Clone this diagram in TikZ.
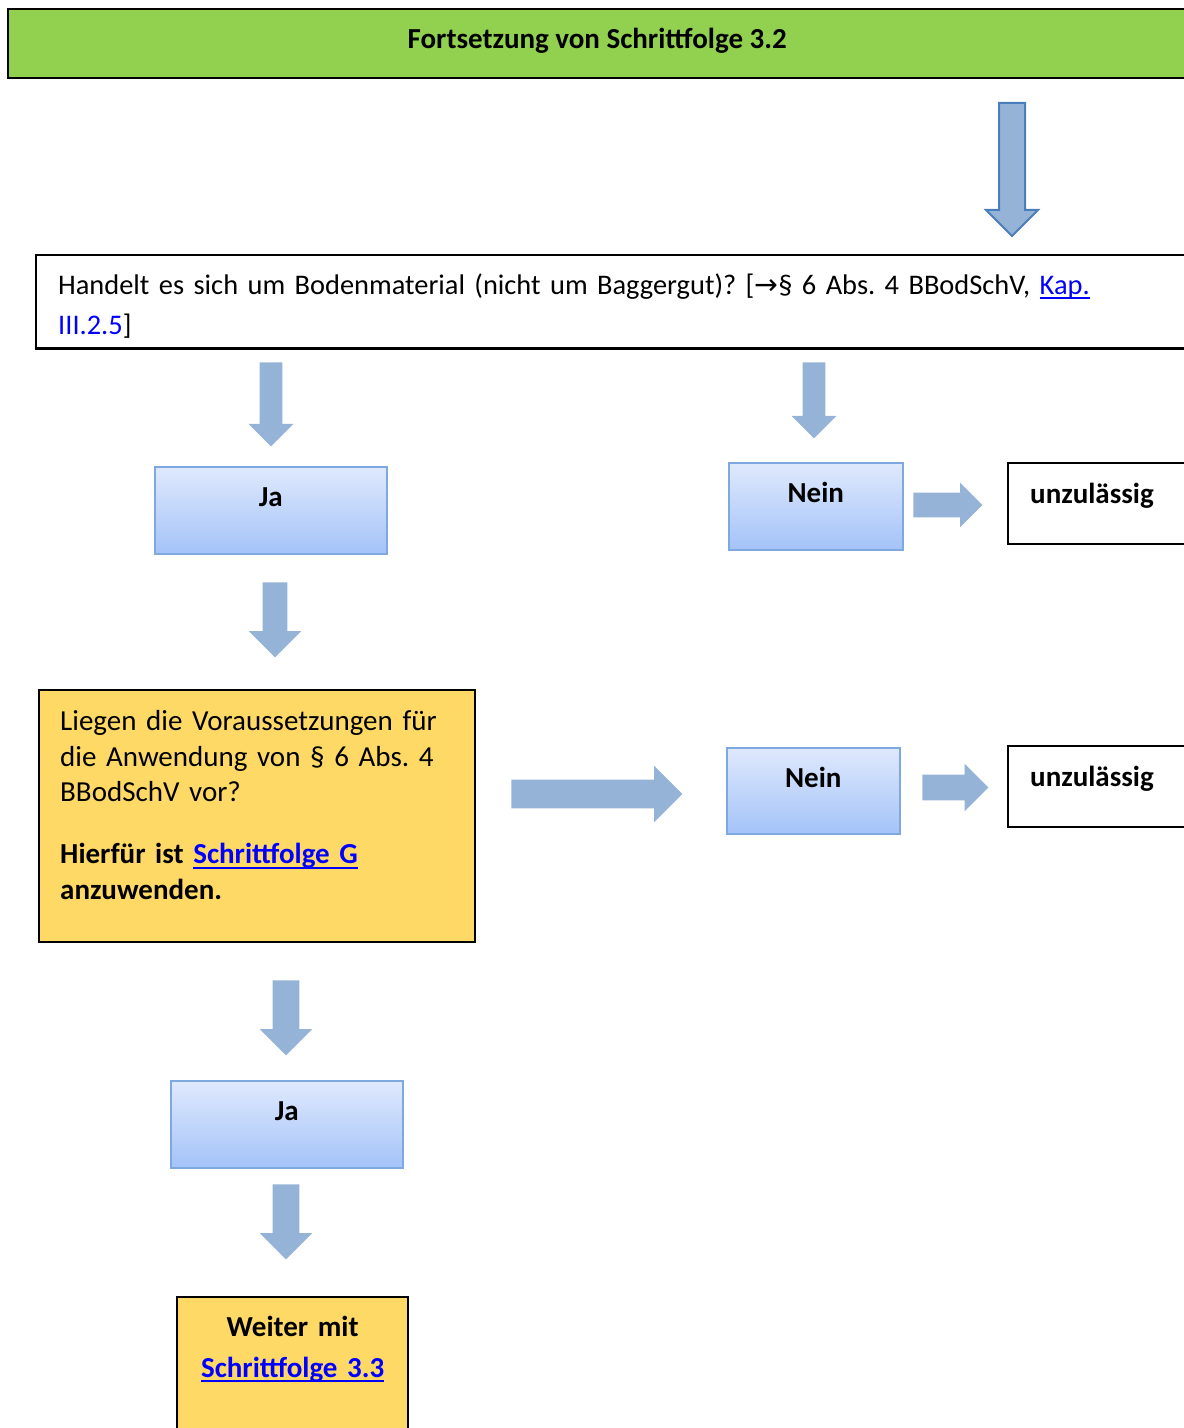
\documentclass[tikz,border=0pt]{standalone}
\usepackage{fontspec}
\setmainfont{Carlito}
\newfontfamily\arrowfont{DejaVu Sans}
\usetikzlibrary{shapes.arrows}
\definecolor{stepgreen}{HTML}{92D050}
\definecolor{stepyellow}{HTML}{FFD966}
\definecolor{steparrow}{HTML}{95B3D7}
\definecolor{steparrowedge}{HTML}{4A7EBB}
\definecolor{stepboxtop}{HTML}{DFE9FD}
\definecolor{stepboxbot}{HTML}{A4C3F8}
\definecolor{stepboxedge}{HTML}{7FA8E0}
\definecolor{steplinkblue}{HTML}{0000FF}
\newcommand{\stepfont}{\fontsize{14.5}{17.8}\selectfont}
\newcommand{\steplink}[1]{\textcolor{steplinkblue}{\setbox0\hbox{#1}\rlap{\vrule height -1.4pt depth 2.4pt width \wd0}\box0}}

\begin{document}
\frenchspacing
\begin{tikzpicture}[x=0.5pt,y=-0.5pt,
  stepbox/.style={draw, line width=1.2pt, inner xsep=11pt, inner ysep=0pt, text height=19.7pt, anchor=north west, align=left, font=\stepfont},
  answer/.style={stepbox, draw=stepboxedge, line width=0.8pt, top color=stepboxtop, bottom color=stepboxbot, align=center, font=\stepfont\bfseries},
  result/.style={stepbox, text width=67pt, text height=20.2pt, text depth=20.3pt, font=\stepfont\bfseries},
  blockdown/.style={single arrow, shape border rotate=270, anchor=tail, fill=steparrow, minimum height=#1},
  blockright/.style={single arrow, anchor=tail, fill=steparrow, minimum height=#1}]
\useasboundingbox (0,0) rectangle (1183,1428);

\node[stepbox, fill=stepgreen, minimum width=589pt, text depth=14.8pt, align=center, font=\stepfont\bfseries] (head) at (7,8) {Fortsetzung von Schrittfolge 3.2};
\node[blockdown=66.5pt, inner sep=6pt, single arrow head extend=6.5pt, draw=steparrowedge, line width=1pt] (pfeil0) at (1012,102) {};

\node[stepbox, minimum width=575pt, text width=553pt, text depth=27pt, font=\fontsize{14.2}{20}\selectfont] (frage) at (35,254) {Handelt es sich um Bodenmaterial (nicht um Baggergut)? [{\arrowfont →}§ 6 Abs. 4 BBodSchV, \steplink{Kap.}\\ \textcolor{steplinkblue}{III.2.5}]};

\node[blockdown=42pt, inner sep=5.5pt, single arrow head extend=5.5pt] (pfeilJa) at (271,362) {};
\node[blockdown=38pt, inner sep=5.5pt, single arrow head extend=5.5pt] (pfeilNein) at (814,362) {};

\node[answer, minimum width=116pt, text depth=23.8pt] (jaA) at (154,466) {Ja};
\node[answer, minimum width=87pt, text depth=23.8pt] (neinA) at (728,462) {Nein};
\node[blockright=34.5pt, inner sep=6pt, single arrow head extend=5pt] (pfeilUnzA) at (913,505) {};
\node[result] (unzA) at (1007,462) {unzulässig};

\node[blockdown=37.5pt, inner sep=6pt, single arrow head extend=7pt] (pfeilVor) at (275,582) {};

\node[stepbox, fill=stepyellow, inner xsep=10.5pt, text width=197pt, text height=20.2pt, text depth=105.8pt] (voraus) at (38,689) {Liegen die Voraussetzungen für\\ die Anwendung von § 6 Abs. 4\\ BBodSchV vor?\\[13.25pt] \textbf{Hierfür ist \steplink{Schrittfolge G}}\\ \textbf{anzuwenden.}};

\node[blockright=85.5pt, inner sep=7pt, single arrow head extend=7pt] (pfeilNeinB) at (511,794) {};
\node[answer, minimum width=86.5pt, text depth=23.3pt] (neinB) at (726,747) {Nein};
\node[blockright=33pt, inner sep=6.25pt, single arrow head extend=5.5pt] (pfeilUnzB) at (922,787.5) {};
\node[result] (unzB) at (1007,745) {unzulässig};

\node[blockdown=37.5pt, inner sep=6.5pt, single arrow head extend=6.5pt] (pfeilJaB) at (286,980) {};
\node[answer, minimum width=116pt, text depth=23.8pt] (jaB) at (170,1080) {Ja};
\node[blockdown=37.5pt, inner sep=6.5pt, single arrow head extend=6.5pt] (pfeilWeiter) at (286,1184) {};

\node[stepbox, fill=stepyellow, text width=93.5pt, text depth=49.8pt, align=center, font=\fontsize{14.5}{20.5}\selectfont\bfseries] (weiter) at (176,1296) {Weiter mit\\ \steplink{Schrittfolge 3.3}};
\end{tikzpicture}
\end{document}
